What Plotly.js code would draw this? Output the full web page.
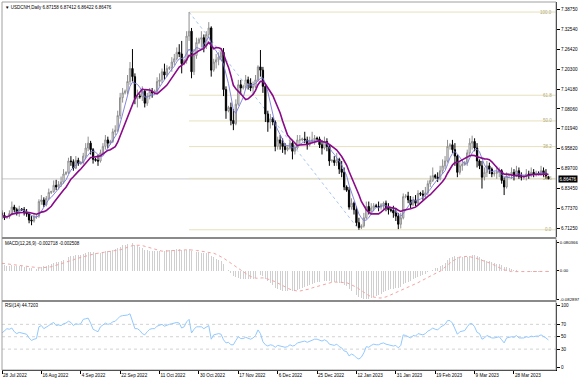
<!DOCTYPE html>
<html><head><meta charset="utf-8">
<script src="https://cdn.plot.ly/plotly-3.0.1.min.js"></script>
<style>html,body{margin:0;padding:0;background:#fff}#chart{width:580px;height:380px}</style>
</head><body><div id="chart"></div>
<script>
const symbolTitle = "USDCNH,Daily 6.87158 6.87412 6.86422 6.86476";
const macdTitle = "MACD(12,26,9) -0.002718 -0.002508";
const rsiTitle = "RSI(14) 44.7203";
const tickIdx = [0,16,32,48,64,80,96,112,128,144,160,176,192,208];
const tickText = ['28 Jul 2022','16 Aug 2022','4 Sep 2022','22 Sep 2022','11 Oct 2022','30 Oct 2022','17 Nov 2022','6 Dec 2022','25 Dec 2022','12 Jan 2023','31 Jan 2023','19 Feb 2023','9 Mar 2023','28 Mar 2023'];
const priceTicks = [7.38750,7.32540,7.26420,7.20300,7.14180,7.08060,7.01940,6.95820,6.89700,6.83450,6.77370,6.71250];
const macdTicks = [0.080366,0,-0.082897];
const macdTickText = ['0.080366','0.00','-0.082897'];
const rsiTicks = [100,70,50,30,0];
const rsiLevels = [70,50,30];
const fibLevels = [0,23.6,38.2,50,61.8,100];
const fibHigh = 7.379, fibHighIdx = 76;
const fibLow = 6.708, fibLowIdx = 145;

const opens = [6.760,6.752,6.745,6.748,6.758,6.778,6.770,6.760,6.772,6.770,
6.760,6.757,6.738,6.735,6.748,6.750,6.795,6.800,6.785,6.805,
6.823,6.826,6.845,6.840,6.848,6.855,6.880,6.885,6.920,6.918,
6.898,6.922,6.912,6.915,6.935,6.960,6.975,6.955,6.925,6.922,
6.920,6.945,6.965,6.985,6.975,6.980,7.010,7.015,7.060,7.115,
7.130,7.135,7.165,7.205,7.180,7.112,7.120,7.118,7.135,7.098,
7.120,7.135,7.130,7.136,7.165,7.170,7.195,7.185,7.205,7.208,
7.225,7.235,7.255,7.250,7.220,7.230,7.305,7.320,7.195,7.245,
7.285,7.295,7.300,7.275,7.310,7.330,7.200,7.225,7.232,7.240,
7.255,7.140,7.075,7.085,7.045,7.035,7.095,7.155,7.145,7.150,
7.170,7.160,7.145,7.150,7.170,7.210,7.200,7.150,7.065,7.040,
7.050,7.040,6.965,6.985,6.975,6.965,6.955,6.960,6.975,6.950,
6.960,6.985,6.985,6.988,6.985,6.970,6.980,6.985,6.990,6.988,
6.970,6.960,6.980,6.965,6.920,6.922,6.915,6.925,6.895,6.885,
6.840,6.830,6.778,6.790,6.770,6.730,6.715,6.720,6.745,6.780,
6.765,6.775,6.782,6.780,6.778,6.785,6.790,6.775,6.770,6.768,
6.760,6.750,6.725,6.745,6.810,6.812,6.800,6.785,6.800,6.790,
6.820,6.818,6.815,6.822,6.850,6.860,6.875,6.870,6.865,6.890,
6.905,6.920,6.965,6.970,6.955,6.935,6.885,6.905,6.910,6.915,
6.945,6.975,6.980,6.960,6.920,6.905,6.870,6.885,6.905,6.895,
6.880,6.882,6.885,6.890,6.860,6.840,6.875,6.878,6.885,6.875,
6.890,6.872,6.870,6.872,6.880,6.875,6.885,6.880,6.882,6.880,
6.890,6.882,6.87158];
const highs = [6.768,6.762,6.750,6.768,6.795,6.785,6.776,6.782,6.775,6.778,
6.772,6.762,6.750,6.760,6.752,6.802,6.815,6.808,6.812,6.835,
6.828,6.860,6.862,6.858,6.872,6.895,6.888,6.930,6.935,6.925,
6.935,6.930,6.920,6.945,6.975,6.995,6.982,6.960,6.930,6.940,
6.955,6.975,7.000,6.995,6.985,7.020,7.030,7.075,7.130,7.145,
7.140,7.185,7.225,7.265,7.190,7.140,7.128,7.150,7.140,7.130,
7.145,7.145,7.140,7.178,7.190,7.205,7.220,7.215,7.212,7.240,
7.250,7.270,7.280,7.290,7.235,7.320,7.379,7.330,7.265,7.300,
7.300,7.320,7.310,7.320,7.348,7.335,7.235,7.250,7.255,7.265,
7.268,7.150,7.090,7.100,7.080,7.110,7.170,7.170,7.155,7.185,
7.180,7.175,7.165,7.185,7.215,7.262,7.210,7.160,7.075,7.065,
7.055,7.045,6.995,7.000,6.990,6.975,6.965,6.990,6.985,6.970,
7.000,7.000,6.992,7.010,6.995,6.995,7.010,7.000,6.995,6.995,
6.985,6.995,6.990,6.970,6.925,6.935,6.945,6.930,6.920,6.900,
6.845,6.840,6.805,6.795,6.780,6.745,6.725,6.760,6.795,6.795,
6.790,6.790,6.788,6.795,6.790,6.795,6.798,6.790,6.775,6.782,
6.775,6.760,6.760,6.820,6.818,6.825,6.812,6.810,6.815,6.830,
6.825,6.830,6.840,6.860,6.875,6.900,6.880,6.885,6.905,6.925,
6.935,6.985,6.975,6.985,6.975,6.940,6.920,6.925,6.920,6.955,
6.990,6.998,6.990,6.975,6.925,6.920,6.900,6.920,6.915,6.900,
6.888,6.905,6.900,6.895,6.870,6.885,6.882,6.900,6.895,6.905,
6.900,6.885,6.878,6.895,6.890,6.900,6.895,6.890,6.888,6.905,
6.900,6.895,6.87412];
const lows = [6.742,6.738,6.742,6.742,6.752,6.762,6.752,6.748,6.766,6.752,
6.748,6.728,6.722,6.730,6.742,6.745,6.785,6.778,6.780,6.800,
6.818,6.822,6.830,6.832,6.840,6.850,6.876,6.880,6.905,6.890,
6.895,6.905,6.908,6.910,6.925,6.950,6.940,6.912,6.918,6.905,
6.915,6.940,6.955,6.960,6.970,6.975,7.000,7.010,7.050,7.100,
7.125,7.125,7.155,7.165,7.095,7.085,7.112,7.105,7.085,7.090,
7.110,7.115,7.126,7.130,7.150,7.160,7.170,7.180,7.200,7.195,
7.215,7.230,7.240,7.190,7.215,7.220,7.290,7.175,7.185,7.235,
7.280,7.270,7.255,7.265,7.300,7.180,7.195,7.205,7.215,7.230,
7.120,7.050,7.070,7.030,7.015,7.030,7.090,7.125,7.140,7.140,
7.140,7.135,7.130,7.145,7.165,7.180,7.130,7.040,7.010,7.020,
7.030,6.950,6.955,6.955,6.945,6.940,6.950,6.955,6.925,6.940,
6.955,6.970,6.980,6.975,6.955,6.965,6.975,6.970,6.985,6.960,
6.940,6.955,6.950,6.905,6.915,6.905,6.905,6.880,6.870,6.830,
6.825,6.770,6.770,6.755,6.720,6.708,6.710,6.715,6.740,6.755,
6.755,6.765,6.776,6.765,6.770,6.770,6.765,6.755,6.762,6.745,
6.735,6.710,6.712,6.740,6.805,6.790,6.775,6.780,6.780,6.785,
6.812,6.800,6.805,6.815,6.840,6.855,6.865,6.855,6.860,6.880,
6.895,6.915,6.955,6.945,6.905,6.870,6.878,6.890,6.905,6.905,
6.935,6.955,6.950,6.900,6.895,6.835,6.860,6.870,6.880,6.870,
6.872,6.865,6.870,6.850,6.815,6.835,6.868,6.865,6.860,6.870,
6.865,6.860,6.862,6.860,6.865,6.870,6.870,6.872,6.876,6.875,
6.870,6.865,6.86422];
const closes = [6.752,6.745,6.748,6.758,6.778,6.770,6.760,6.772,6.770,6.760,
6.757,6.738,6.735,6.748,6.750,6.795,6.800,6.785,6.805,6.823,
6.826,6.845,6.840,6.848,6.855,6.880,6.885,6.920,6.918,6.898,
6.922,6.912,6.915,6.935,6.960,6.975,6.955,6.925,6.922,6.920,
6.945,6.965,6.985,6.975,6.980,7.010,7.015,7.060,7.115,7.130,
7.135,7.165,7.205,7.180,7.112,7.120,7.118,7.135,7.098,7.120,
7.135,7.130,7.136,7.165,7.170,7.195,7.185,7.205,7.208,7.225,
7.235,7.255,7.250,7.220,7.230,7.305,7.320,7.195,7.245,7.285,
7.295,7.300,7.275,7.310,7.330,7.200,7.225,7.232,7.240,7.255,
7.140,7.075,7.085,7.045,7.035,7.095,7.155,7.145,7.150,7.170,
7.160,7.145,7.150,7.170,7.210,7.200,7.150,7.065,7.040,7.050,
7.040,6.965,6.985,6.975,6.965,6.955,6.960,6.975,6.950,6.960,
6.985,6.985,6.988,6.985,6.970,6.980,6.985,6.990,6.988,6.970,
6.960,6.980,6.965,6.920,6.922,6.915,6.925,6.895,6.885,6.840,
6.830,6.778,6.790,6.770,6.730,6.715,6.720,6.745,6.780,6.765,
6.775,6.782,6.780,6.778,6.785,6.790,6.775,6.770,6.768,6.760,
6.750,6.725,6.745,6.810,6.812,6.800,6.785,6.800,6.790,6.820,
6.818,6.815,6.822,6.850,6.860,6.875,6.870,6.865,6.890,6.905,
6.920,6.965,6.970,6.955,6.935,6.885,6.905,6.910,6.915,6.945,
6.975,6.980,6.960,6.920,6.905,6.870,6.885,6.905,6.895,6.880,
6.882,6.885,6.890,6.860,6.840,6.875,6.878,6.885,6.875,6.890,
6.872,6.870,6.872,6.880,6.875,6.885,6.880,6.882,6.880,6.890,
6.882,6.87158,6.86476];
const macdMain = [.016,.015,.014,.014,.015,.014,.013,.013,.012,.011,
.010,.008,.006,.005,.005,.008,.011,.012,.014,.017,
.019,.022,.024,.026,.028,.031,.034,.038,.041,.042,
.044,.045,.046,.048,.050,.053,.054,.053,.052,.051,
.052,.053,.055,.056,.057,.059,.061,.065,.069,.073,
.075,.077,.0804,.080,.075,.071,.067,.064,.060,.058,
.057,.056,.055,.056,.056,.057,.057,.058,.058,.059,
.060,.061,.061,.059,.058,.060,.062,.057,.055,.054,
.053,.052,.050,.050,.050,.043,.038,.034,.031,.028,
.020,.011,.003,-.008,-.015,-.020,-.022,-.024,-.025,-.025,
-.025,-.024,-.023,-.021,-.017,-.014,-.016,-.024,-.031,-.037,
-.042,-.050,-.054,-.057,-.059,-.060,-.060,-.059,-.059,-.058,
-.055,-.052,-.049,-.046,-.044,-.041,-.039,-.036,-.034,-.033,
-.032,-.030,-.029,-.031,-.032,-.033,-.033,-.035,-.036,-.041,
-.045,-.053,-.058,-.063,-.070,-.077,-.080,-.082,-.0829,-.082,
-.080,-.077,-.074,-.071,-.067,-.063,-.060,-.057,-.054,-.052,
-.050,-.050,-.048,-.040,-.036,-.032,-.029,-.025,-.022,-.018,
-.015,-.012,-.009,-.005,-.001,.003,.006,.008,.012,.017,
.022,.030,.036,.040,.042,.040,.039,.038,.038,.040,
.043,.045,.045,.042,.039,.034,.031,.029,.027,.024,
.022,.020,.018,.015,.011,.009,.007,.005,.003,.002,
.000,-.001,-.002,-.002,-.003,-.003,-.003,-.003,-.003,-.002,
-.002,-.002,-.002718];
const macdSignal = [.021,.020,.019,.018,.017,.016,.015,.014,.013,.012,
.012,.011,.010,.009,.008,.008,.008,.008,.009,.010,
.011,.013,.015,.017,.019,.021,.024,.026,.029,.031,
.034,.036,.039,.041,.043,.045,.047,.048,.049,.050,
.051,.052,.052,.053,.054,.055,.057,.058,.060,.062,
.065,.068,.070,.072,.073,.074,.073,.072,.070,.068,
.065,.062,.060,.058,.057,.056,.056,.057,.057,.057,
.058,.058,.059,.059,.059,.060,.060,.060,.059,.058,
.057,.056,.055,.054,.053,.052,.050,.047,.044,.040,
.036,.031,.026,.021,.015,.010,.005,.000,-.005,-.009,
-.013,-.017,-.020,-.022,-.022,-.021,-.021,-.022,-.024,-.026,
-.029,-.032,-.036,-.040,-.044,-.047,-.051,-.054,-.056,-.058,
-.059,-.059,-.058,-.057,-.055,-.053,-.050,-.048,-.045,-.043,
-.040,-.038,-.036,-.035,-.034,-.033,-.033,-.033,-.033,-.034,
-.035,-.038,-.041,-.044,-.048,-.053,-.058,-.063,-.068,-.072,
-.075,-.077,-.078,-.079,-.079,-.078,-.076,-.073,-.070,-.067,
-.064,-.061,-.058,-.055,-.052,-.049,-.046,-.042,-.039,-.035,
-.031,-.027,-.023,-.019,-.015,-.012,-.008,-.005,-.002,.003,
.010,.016,.022,.027,.031,.035,.039,.040,.041,.041,
.040,.039,.037,.035,.032,.030,.028,.025,.022,.019,
.015,.011,.008,.005,.002,.000,-.002,-.003,-.003,-.003,
-.004,-.004,-.004,-.004,-.003,-.003,-.003,-.003,-.003,-.003,
-.003,-.003,-.002508];
const rsi = [56,60,63,62,64,58,55,57,56,54,
54,48,44,46,47,66,68,63,65,68,
71,73,68,69,68,71,72,75,73,68,
71,70,71,78,79,80,72,62,60,58,
66,69,72,70,71,74,75,79,83,84,
84,85,87,75,63,63,60,55,53,58,
62,63,63,67,68,70,67,69,70,71,
72,73,72,64,66,74,78,56,62,66,
66,66,63,66,68,46,53,54,55,54,
45,40,41,37,37,44,50,47,47,49,
48,46,48,52,61,55,42,37,35,37,
36,33,36,35,34,33,34,37,35,36,
40,41,42,43,41,43,44,46,46,44,
43,45,43,38,37,36,38,34,32,27,
26,19,22,20,16,14,17,24,34,33,
36,38,37,37,39,40,38,37,37,35,
36,32,36,53,52,50,48,52,51,55,
54,53,55,59,61,64,62,61,65,68,
70,76,76,72,64,54,58,59,60,66,
71,71,66,57,55,46,48,52,50,48,
48,49,50,45,40,48,49,50,49,52,
48,48,48,50,49,51,50,51,51,53,
51,48,44.7203];

const idx = closes.map((_, i) => i);
function sma(arr, n) {
  return arr.map((_, i) => {
    const s = Math.max(0, i - n + 1);
    let t = 0;
    for (let k = s; k <= i; k++) t += arr[k];
    return t / (i - s + 1);
  });
}
const maSlow = sma(closes, 10);
const maFast = sma(closes, 5);
const lastClose = closes[closes.length - 1];
const X_END = 225.07;
const FONT = 'Liberation Sans, Arial, sans-serif';

const traces = [
  {type:'candlestick', x: idx, open: opens, high: highs, low: lows, close: closes,
   xaxis:'x', yaxis:'y', whiskerwidth:0, hoverinfo:'skip',
   increasing:{line:{color:'#8f8f8f', width:1}, fillcolor:'#ffffff'},
   decreasing:{line:{color:'#000000', width:1}, fillcolor:'#000000'}},
  {type:'scatter', mode:'lines', x: idx, y: maFast, xaxis:'x', yaxis:'y',
   line:{color:'#7878da', width:0.9}, hoverinfo:'skip'},
  {type:'scatter', mode:'lines', x: idx, y: maSlow, xaxis:'x', yaxis:'y',
   line:{color:'#8a0a8a', width:1.6}, hoverinfo:'skip'},
  {type:'bar', x: idx, y: macdMain, xaxis:'x', yaxis:'y2', width:0.4,
   marker:{color:'#cfcfcf', line:{width:0}}, hoverinfo:'skip'},
  {type:'scatter', mode:'lines', x: idx, y: macdSignal, xaxis:'x', yaxis:'y2',
   line:{color:'#f4a3a3', width:1, dash:'dot'}, hoverinfo:'skip'},
  {type:'scatter', mode:'lines', x: idx, y: rsi, xaxis:'x', yaxis:'y3',
   line:{color:'#92c8ff', width:1}, hoverinfo:'skip'}
];

const shapes = [];
shapes.push({type:'line', xref:'x', yref:'y', x0:0, x1:X_END, y0:lastClose, y1:lastClose,
  line:{color:'#c8c8c8', width:1}, layer:'below'});
fibLevels.forEach(p => {
  const v = fibLow + (fibHigh - fibLow) * p / 100;
  shapes.push({type:'line', xref:'x', yref:'y', x0:fibHighIdx, x1:X_END, y0:v, y1:v,
    line:{color:'#e6e0bd', width:1}, layer:'below'});
});
shapes.push({type:'line', xref:'x', yref:'y', x0:fibHighIdx, x1:fibLowIdx, y0:fibHigh, y1:fibLow,
  line:{color:'#a9c6f0', width:1, dash:'dot'}, layer:'below'});
rsiLevels.forEach(l => {
  shapes.push({type:'line', xref:'x', yref:'y3', x0:0, x1:X_END, y0:l, y1:l,
    line:{color:'#d2d2d2', width:1, dash:'dot'}, layer:'below'});
});
shapes.push({type:'rect', xref:'paper', yref:'paper', x0:0, x1:1, y0:0, y1:1,
  line:{color:'#a0a0a0', width:1}});
shapes.push({type:'line', xref:'paper', yref:'paper', x0:0, x1:1, y0:0.3587, y1:0.3587,
  line:{color:'#8a8a8a', width:2}});
shapes.push({type:'line', xref:'paper', yref:'paper', x0:0, x1:1, y0:0.1875, y1:0.1875,
  line:{color:'#8a8a8a', width:2}});

const annotations = [
  {xref:'paper', yref:'paper', x:0.002, y:0.986, xanchor:'left', yanchor:'middle', showarrow:false,
   text:'\u25BC ' + symbolTitle, font:{family:FONT, size:4.5, color:'#000'}},
  {xref:'paper', yref:'paper', x:0.002, y:0.3451, xanchor:'left', yanchor:'middle', showarrow:false,
   text:macdTitle, font:{family:FONT, size:4.5, color:'#000'}},
  {xref:'paper', yref:'paper', x:0.002, y:0.1766, xanchor:'left', yanchor:'middle', showarrow:false,
   text:rsiTitle, font:{family:FONT, size:4.5, color:'#000'}},
  {xref:'paper', yref:'y', x:1.004, y:lastClose, xanchor:'left', yanchor:'middle', showarrow:false,
   text:lastClose.toFixed(5), bgcolor:'#000', borderpad:0.5, font:{family:FONT, size:4.6, color:'#fff'}}
];
fibLevels.forEach(p => {
  const v = fibLow + (fibHigh - fibLow) * p / 100;
  annotations.push({xref:'paper', yref:'y', x:0.997, y:v, xanchor:'right', yanchor:'middle', showarrow:false,
    text:p.toFixed(1), font:{family:FONT, size:4.5, color:'#b3ab74'}});
});

const axisFont = {family:FONT, size:4.6, color:'#000'};
const layout = {
  width:580, height:380,
  margin:{l:2, r:24, t:2, b:10, pad:0},
  paper_bgcolor:'#fff', plot_bgcolor:'#fff',
  showlegend:false, hovermode:false, bargap:0, boxgap:0.25,
  font:{family:FONT, size:4.6, color:'#000'},
  xaxis:{range:[0, X_END], anchor:'y3', tickvals:tickIdx, ticktext:tickText,
    ticks:'outside', ticklen:3, tickcolor:'#000', tickfont:{family:FONT, size:4.6, color:'#000'},
    ticklabelposition:'outside right', showgrid:false, zeroline:false,
    showline:true, linecolor:'#000', linewidth:1, rangeslider:{visible:false}, fixedrange:true},
  yaxis:{domain:[0.3614, 1], range:[6.6857, 7.4100], side:'right', anchor:'x',
    tickvals:priceTicks, ticktext:priceTicks.map(v => v.toFixed(5)),
    ticks:'outside', ticklen:3, tickcolor:'#000', tickfont:axisFont,
    showgrid:false, zeroline:false, showline:true, linecolor:'#000', linewidth:1, fixedrange:true},
  yaxis2:{domain:[0.1902, 0.3546], range:[-0.08492, 0.08960], side:'right', anchor:'x',
    tickvals:macdTicks, ticktext:macdTickText,
    ticks:'outside', ticklen:2, tickcolor:'#000', tickfont:{family:FONT, size:4.3, color:'#000'},
    showgrid:false, zeroline:false, showline:true, linecolor:'#000', linewidth:1, fixedrange:true},
  yaxis3:{domain:[0, 0.1834], range:[-3.7, 105.2], side:'right', anchor:'x',
    tickvals:rsiTicks, ticktext:rsiTicks.map(String),
    ticks:'outside', ticklen:3, tickcolor:'#000', tickfont:axisFont,
    showgrid:false, zeroline:false, showline:true, linecolor:'#000', linewidth:1, fixedrange:true},
  shapes: shapes,
  annotations: annotations
};
Plotly.newPlot('chart', traces, layout, {staticPlot:true, displayModeBar:false});
</script>
</body></html>
